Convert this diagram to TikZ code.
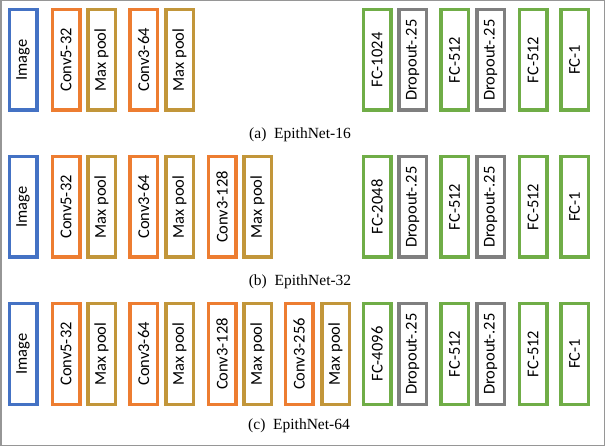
\documentclass[tikz,border=0pt]{standalone}
\usepackage{fontspec}
\setmainfont{Liberation Serif}
\newfontfamily\layerfont{Carlito}
\definecolor{imgblue}{RGB}{68,114,196}
\definecolor{convorange}{RGB}{237,125,49}
\definecolor{poolgold}{RGB}{194,150,58}
\definecolor{fcgreen}{RGB}{112,173,71}
\definecolor{dropgray}{RGB}{127,127,127}
\definecolor{framegray}{RGB}{150,150,150}
\begin{document}
\begin{tikzpicture}[
            x=1pt, y=-1pt,
            layer/.style={draw, line width=3.5pt, rotate=90, inner sep=0pt,
                minimum width=100.5pt, minimum height=27.5pt,
                font=\layerfont\fontsize{16.5}{18}\selectfont},
            inputbox/.style={layer, draw=imgblue},
            convbox/.style={layer, draw=convorange},
            poolbox/.style={layer, draw=poolgold},
            fcbox/.style={layer, draw=fcgreen},
            dropbox/.style={layer, draw=dropgray},
            caption/.style={font=\fontsize{15.5}{17}\selectfont}]

            \useasboundingbox (0,0) rectangle (605,446);
            \draw[framegray, line width=1.5pt] (0.75,0.75) rectangle (604.25,445.25);

            % layers shared by all three nets
            \foreach \r/\y/\n in {A/60/1024, B/207/2048, C/354/4096}{
                \node[inputbox] (image-\r) at (23,\y) {Image};
                \node[convbox] (conv1-\r) at (66,\y) {Conv5-32};
                \node[poolbox] (pool1-\r) at (101.5,\y) {Max pool};
                \node[convbox] (conv2-\r) at (143.5,\y) {Conv3-64};
                \node[poolbox] (pool2-\r) at (179.5,\y) {Max pool};

                \node[fcbox] (fc1-\r) at (377,\y) {FC-\n};
                \node[dropbox] (drop1-\r) at (412.5,\y) {Dropout-.25};
                \node[fcbox] (fc2-\r) at (454.5,\y) {FC-512};
                \node[dropbox] (drop2-\r) at (490.5,\y) {Dropout-.25};
                \node[fcbox] (fc3-\r) at (533,\y) {FC-512};
                \node[fcbox] (fc4-\r) at (574.5,\y) {FC-1};
            }

            % extra conv blocks
            \node[convbox] (conv3-B) at (222,207) {Conv3-128};
            \node[poolbox] (pool3-B) at (257.5,207) {Max pool};
            \node[convbox] (conv3-C) at (222,354) {Conv3-128};
            \node[poolbox] (pool3-C) at (257.5,354) {Max pool};
            \node[convbox] (conv4-C) at (299,354) {Conv3-256};
            \node[poolbox] (pool4-C) at (335.5,354) {Max pool};

            \node[caption] (cap-A) at (300,135) {(a)\hspace{0.5em}EpithNet-16};
            \node[caption] (cap-B) at (300,282) {(b)\hspace{0.5em}EpithNet-32};
            \node[caption] (cap-C) at (299,426) {(c)\hspace{0.5em}EpithNet-64};
        \end{tikzpicture}
\end{document}
